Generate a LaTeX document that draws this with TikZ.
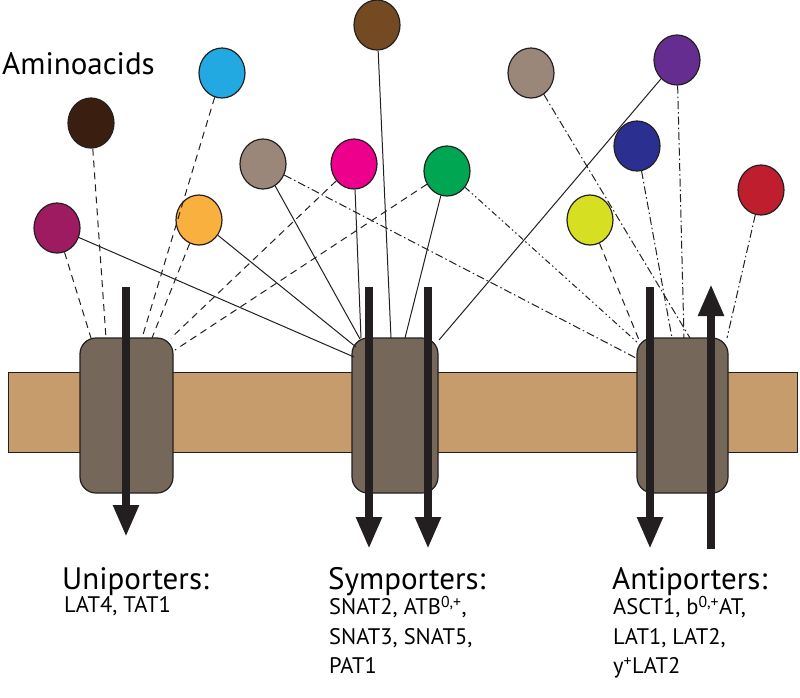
\documentclass[tikz,border=0pt]{standalone}
\usepackage{fontspec}
\setmainfont{PT Sans}
\usetikzlibrary{shapes.geometric,arrows.meta}
\definecolor{cMaroon}{HTML}{9E1B62}
\definecolor{cDark}{HTML}{3A1F10}
\definecolor{cSky}{HTML}{22A9E1}
\definecolor{cOrange}{HTML}{F9B03F}
\definecolor{cTaupe}{HTML}{9B877A}
\definecolor{cPink}{HTML}{EC008C}
\definecolor{cBrown}{HTML}{744A23}
\definecolor{cGreen}{HTML}{00A651}
\definecolor{cPurple}{HTML}{662D91}
\definecolor{cNavy}{HTML}{2B3090}
\definecolor{cYellow}{HTML}{D7DF23}
\definecolor{cRed}{HTML}{BE1E2D}
\definecolor{cMem}{HTML}{C69C6D}
\definecolor{cBox}{HTML}{75685A}
\definecolor{cInk}{HTML}{231F20}
\tikzset{
  aa/.style={ellipse,draw=cInk,line width=1.2pt,minimum width=46pt,minimum height=50pt,inner sep=0pt},
  tbox/.style={draw=cInk,line width=1.2pt,fill=cBox,rounded corners=16pt},
  bigarrow/.style={draw=cInk,line width=8pt,-{Triangle[length=32pt,width=24pt]}},
  ln/.style={line width=1pt,cInk},
  dsh/.style={ln,dash pattern=on 7pt off 5pt},
  dd/.style={ln,dash pattern=on 8pt off 3pt on 1.5pt off 3pt},
  ddd/.style={ln,dash pattern=on 6pt off 3pt on 1.5pt off 3pt on 1.5pt off 3pt},
  big/.style={anchor=base west,inner sep=0pt,font=\fontsize{31}{34}\selectfont},
  small/.style={anchor=base west,inner sep=0pt,align=left,font=\fontsize{22.5}{29.5}\selectfont}
}
\begin{document}
\begin{tikzpicture}[x=1pt,y=-1pt]
\useasboundingbox (0,0) rectangle (800,697);
% membrane
\fill[cMem,draw=cInk,line width=1pt] (8,372) rectangle (797,452);
% transporters
\draw[tbox] (80,338) rectangle (173,493);
\draw[tbox] (352,338) rectangle (438,493);
\draw[tbox] (637,338) rectangle (728,493);
% amino acids
\node[aa,fill=cMaroon] (a1) at (57,228) {};
\node[aa,fill=cDark] (a2) at (91,123) {};
\node[aa,fill=cSky] (a3) at (222,73) {};
\node[aa,fill=cOrange] (a4) at (199,220) {};
\node[aa,fill=cTaupe] (a5) at (263,164) {};
\node[aa,fill=cPink] (a6) at (354,164) {};
\node[aa,fill=cBrown] (a7) at (377,25) {};
\node[aa,fill=cGreen] (a8) at (447,171) {};
\node[aa,fill=cTaupe] (a9) at (531,73) {};
\node[aa,fill=cPurple] (a10) at (677,60) {};
\node[aa,fill=cNavy] (a11) at (637,146) {};
\node[aa,fill=cYellow] (a12) at (590,220) {};
\node[aa,fill=cRed] (a13) at (761,190) {};
% endpoints
\coordinate (u1) at (91,338); \coordinate (u2) at (106,338);
\coordinate (u3) at (142,338); \coordinate (u4) at (152,338);
\coordinate (u5) at (171,338); \coordinate (u6) at (175,350);
\coordinate (s1) at (354,357); \coordinate (s2) at (356,347);
\coordinate (s3) at (360,339); \coordinate (s4) at (361,338);
\coordinate (s5) at (391,338); \coordinate (s6) at (405,338);
\coordinate (s7) at (439,340);
\coordinate (t1) at (636,358); \coordinate (t2) at (638,343);
\coordinate (t3) at (639,340); \coordinate (t4) at (672,338);
\coordinate (t5) at (690,338); \coordinate (t6) at (684,338);
\coordinate (t7) at (727,338);
% uniporter lines
\draw[dsh] (a1) -- (u1);
\draw[dsh] (a2) -- (u2);
\draw[dsh] (a3) -- (u3);
\draw[dsh] (a4) -- (u4);
\draw[dsh] (a6) -- (u5);
\draw[dsh] (a8) -- (u6);
% symporter lines
\draw[ln] (a1) -- (s1);
\draw[ln] (a4) -- (s2);
\draw[ln] (a5) -- (s3);
\draw[ln] (a6) -- (s4);
\draw[ln] (a7) -- (s5);
\draw[ln] (a8) -- (s6);
\draw[ln] (a10) -- (s7);
% antiporter lines
\draw[dd] (a5) -- (t1);
\draw[ddd] (a8) -- (t2);
\draw[dsh] (a12) -- (t3);
\draw[dd] (a11) -- (t4);
\draw[dd] (a9) -- (t5);
\draw[dd] (a10) -- (t6);
\draw[dd] (a13) -- (t7);
% arrows
\coordinate (ua) at (126,287); \coordinate (ub) at (126,537);
\coordinate (sa) at (369,287); \coordinate (sb) at (369,549);
\coordinate (sc) at (428,287); \coordinate (sd) at (428,549);
\coordinate (ta) at (650,287); \coordinate (tb) at (650,549);
\coordinate (tc) at (711,549); \coordinate (td) at (711,284);
\draw[bigarrow] (ua) -- (ub);
\draw[bigarrow] (sa) -- (sb);
\draw[bigarrow] (sc) -- (sd);
\draw[bigarrow] (ta) -- (tb);
\draw[bigarrow] (tc) -- (td);
% text
\node[big] (lab) at (2,74) {Aminoacids};
\node[big] (lu) at (62,589) {Uniporters:};
\node[big] (ls) at (328,589) {Symporters:};
\node[big] (la) at (612,589) {Antiporters:};
\node[small,anchor=north west] (tu) at (64,596) {LAT4, TAT1};
\node[small,anchor=north west] (ts) at (329,596) {SNAT2, ATB\textsuperscript{0,+},\\SNAT3, SNAT5,\\PAT1};
\node[small,anchor=north west] (ta2) at (613,596) {ASCT1, b\textsuperscript{0,+}AT,\\LAT1, LAT2,\\y\textsuperscript{+}LAT2};
\end{tikzpicture}
\end{document}
